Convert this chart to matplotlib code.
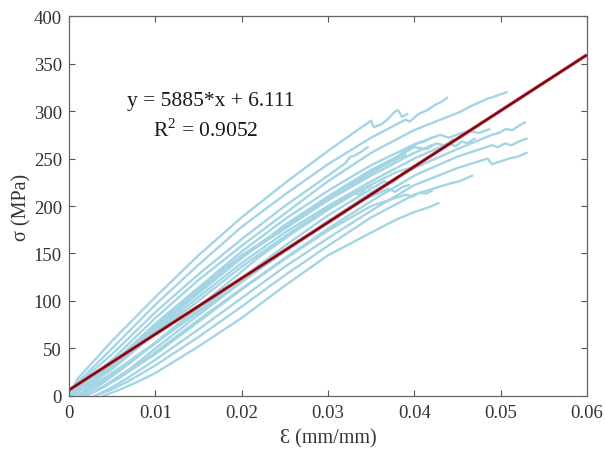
import matplotlib
matplotlib.use("Agg")
import matplotlib.pyplot as plt

plt.rcParams['font.family'] = ['Liberation Serif', 'DejaVu Serif']
plt.rcParams['mathtext.fontset'] = 'custom'
plt.rcParams['mathtext.rm'] = 'Liberation Serif'

# ---- data: individual stress-strain curves (strain, MPa) ----
spec01 = ([0, 0.001, 0.003, 0.005, 0.010, 0.015, 0.020, 0.025, 0.030, 0.035, 0.0353, 0.0362, 0.0370, 0.0377, 0.0381, 0.0386, 0.0392],
          [0, 18, 38, 58, 104, 148, 188, 224, 258, 290, 283, 286, 292, 299, 301, 294, 297])
spec02 = ([0, 0.001, 0.003, 0.005, 0.010, 0.015, 0.020, 0.025, 0.030, 0.035, 0.039, 0.0395, 0.0405, 0.0415, 0.0425, 0.0432, 0.0438],
          [0, 14, 32, 50, 96, 138, 178, 212, 244, 272, 291, 289, 297, 301, 307, 310, 314])
spec03 = ([0, 0.002, 0.005, 0.010, 0.015, 0.020, 0.025, 0.030, 0.032, 0.0325, 0.0333, 0.0340, 0.0346],
          [0, 20, 44, 88, 128, 165, 200, 232, 245, 251, 254, 258, 262])
spec04 = ([0, 0.002, 0.005, 0.010, 0.015, 0.020, 0.025, 0.030, 0.035, 0.040, 0.045, 0.0455, 0.0465, 0.0475, 0.0485, 0.0495, 0.0507],
          [0, 16, 38, 82, 122, 158, 192, 226, 256, 280, 298, 300, 305, 309, 313, 316, 320])
spec05 = ([0, 0.002, 0.005, 0.010, 0.015, 0.020, 0.025, 0.030, 0.035, 0.040, 0.043, 0.0440, 0.0452, 0.0463, 0.0475, 0.0487],
          [0, 13, 34, 76, 114, 152, 186, 216, 243, 265, 275, 272, 276, 279, 277, 281])
spec06 = ([0, 0.002, 0.005, 0.010, 0.015, 0.020, 0.025, 0.030, 0.035, 0.038, 0.0388, 0.0396, 0.0404, 0.0412, 0.0420],
          [0, 12, 31, 70, 108, 145, 180, 210, 238, 252, 257, 262, 266, 268, 272])
spec07 = ([0, 0.002, 0.005, 0.010, 0.015, 0.020, 0.025, 0.030, 0.035, 0.040, 0.044, 0.0448, 0.0455, 0.0462, 0.0470],
          [0, 11, 30, 68, 104, 140, 172, 200, 226, 250, 266, 263, 268, 266, 271])
spec08 = ([0, 0.002, 0.005, 0.010, 0.015, 0.020, 0.025, 0.030, 0.033, 0.0336, 0.0343, 0.0350],
          [0, 10, 28, 66, 100, 136, 168, 198, 214, 212, 218, 221])
spec09 = ([0.001, 0.003, 0.005, 0.010, 0.015, 0.020, 0.025, 0.030, 0.035, 0.040, 0.045, 0.049, 0.0498, 0.0506, 0.0514, 0.0522, 0.0528],
          [0, 12, 24, 56, 88, 120, 152, 184, 214, 240, 260, 275, 277, 281, 280, 285, 288])
spec10 = ([0.002, 0.004, 0.006, 0.010, 0.015, 0.020, 0.025, 0.030, 0.035, 0.040, 0.045, 0.049, 0.0497, 0.0505, 0.0513, 0.0521, 0.0530],
          [0, 10, 20, 46, 80, 113, 145, 176, 205, 232, 252, 264, 262, 266, 264, 268, 271])
spec11 = ([0.003, 0.005, 0.007, 0.010, 0.015, 0.020, 0.025, 0.030, 0.035, 0.040, 0.045, 0.0485, 0.0490, 0.0500, 0.0510, 0.0520, 0.0530],
          [0, 9, 20, 38, 70, 103, 136, 166, 195, 222, 240, 250, 244, 247, 250, 252, 256])
spec12 = ([0.003, 0.005, 0.007, 0.010, 0.015, 0.020, 0.025, 0.030, 0.035, 0.040, 0.0435, 0.0443, 0.0452, 0.0460, 0.0467],
          [0, 7, 16, 32, 62, 94, 127, 158, 188, 212, 222, 224, 226, 229, 232])
spec13 = ([0.004, 0.006, 0.008, 0.010, 0.015, 0.020, 0.025, 0.030, 0.035, 0.038, 0.0388, 0.0398, 0.0408, 0.0418, 0.0428],
          [0, 7, 15, 24, 52, 82, 116, 148, 172, 186, 189, 193, 196, 199, 203])
spec14 = ([0.002, 0.004, 0.006, 0.010, 0.015, 0.020, 0.025, 0.030, 0.035, 0.039, 0.0398, 0.0406, 0.0414, 0.0420],
          [0, 9, 20, 44, 78, 112, 144, 174, 200, 212, 210, 214, 213, 216])
spec15 = ([0, 0.002, 0.005, 0.010, 0.015, 0.020, 0.025, 0.030, 0.035, 0.040, 0.042],
          [0, 12, 32, 72, 110, 146, 178, 206, 232, 256, 264])
spec16 = ([0.001, 0.003, 0.005, 0.010, 0.015, 0.020, 0.025, 0.030, 0.035, 0.0365, 0.0372, 0.0380],
          [0, 10, 22, 55, 90, 124, 158, 190, 218, 226, 224, 228])
spec17 = ([0.0005, 0.003, 0.006, 0.010, 0.015, 0.018, 0.020, 0.022, 0.025, 0.030, 0.035, 0.040, 0.0415, 0.0425, 0.0435, 0.0445],
          [0, 18, 42, 74, 112, 134, 148, 160, 178, 208, 236, 262, 260, 266, 264, 270])
spec18 = ([0.001, 0.004, 0.008, 0.012, 0.016, 0.019, 0.021, 0.024, 0.028, 0.032, 0.036, 0.039],
          [0, 22, 52, 86, 118, 140, 152, 170, 194, 218, 240, 254])
spec19 = ([0.002, 0.004, 0.007, 0.010, 0.014, 0.018, 0.022, 0.026, 0.030, 0.034, 0.037, 0.0378, 0.0386, 0.0394],
          [0, 10, 28, 50, 78, 106, 134, 160, 184, 206, 218, 215, 220, 222])
spec20 = ([0.0015, 0.004, 0.007, 0.010, 0.014, 0.018, 0.022, 0.026, 0.030, 0.034, 0.038, 0.041],
          [0, 14, 34, 56, 86, 116, 146, 172, 196, 218, 236, 244])

specimens = [spec01, spec02, spec03, spec04, spec05, spec06, spec07, spec08, spec09, spec10,
             spec11, spec12, spec13, spec14, spec15, spec16, spec17, spec18, spec19, spec20]

fit_slope = 5885
fit_intercept = 6.111
fit_x = [0, 0.06]

x_ticks = [0, 0.01, 0.02, 0.03, 0.04, 0.05, 0.06]
x_tick_labels = ['0', '0.01', '0.02', '0.03', '0.04', '0.05', '0.06']
y_ticks = [0, 50, 100, 150, 200, 250, 300, 350, 400]

# ---- figure ----
fig = plt.figure(figsize=(6.05, 4.52), dpi=100)
ax = fig.add_axes([0.114, 0.122, 0.856, 0.840])

blue = '#a3d5e4'
for sx, sy in specimens:
    ax.plot(sx, sy, color=blue, lw=1.7, solid_joinstyle='round')

fy = [fit_slope * v + fit_intercept for v in fit_x]
ax.plot(fit_x, fy, color='#de4b56', lw=2.5, solid_capstyle='butt')
ax.plot(fit_x, fy, color='#6e0b14', lw=1.5, solid_capstyle='butt')

ax.text(0.0164, 311, 'y = 5885*x + 6.111', ha='center', va='center', fontsize=15.5, color='#1a1a1a')
ax.text(0.0159, 281, 'R$^2$ = 0.9052', ha='center', va='center', fontsize=15.5, color='#1a1a1a')

ax.set_xlim(0, 0.06)
ax.set_ylim(0, 400)
ax.set_xticks(x_ticks)
ax.set_xticklabels(x_tick_labels)
ax.set_yticks(y_ticks)
ax.tick_params(axis='x', pad=6)
ax.tick_params(axis='y', pad=5)
ax.tick_params(direction='in', top=True, right=True, length=4, width=0.8,
               colors='#555555', labelcolor='#333333', labelsize=13.5)
for sp in ax.spines.values():
    sp.set_color('#666666')
    sp.set_linewidth(0.9)

ax.set_xlabel('Ɛ (mm/mm)', fontsize=14.5, color='#333333', labelpad=5)
ax.set_ylabel('σ (MPa)', fontsize=14.5, color='#333333', labelpad=2)

fig.savefig('out.png', dpi=100)
